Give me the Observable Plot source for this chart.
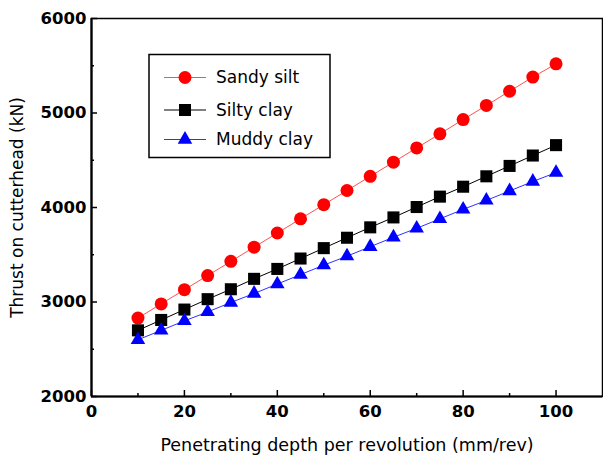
<!DOCTYPE html>
<html><head><meta charset="utf-8">
<script src="https://cdn.jsdelivr.net/npm/d3@7"></script>
<script src="https://cdn.jsdelivr.net/npm/@observablehq/plot@0.6"></script>
<style>
html,body{margin:0;padding:0;background:#fff;}
#wrap{position:relative;width:603px;height:460px;}
#legend{position:absolute;left:0;top:0;}
</style></head>
<body><div id="wrap"></div>
<script>
const depth = [10,15,20,25,30,35,40,45,50,55,60,65,70,75,80,85,90,95,100];
const sandySilt = [2830,2980,3130,3280,3430,3580,3730,3880,4030,4180,4330,4480,4630,4780,4930,5080,5230,5380,5520];
const siltyClay = [2700,2810,2920,3030,3135,3245,3350,3460,3570,3680,3790,3895,4005,4115,4220,4330,4440,4550,4660];
const muddyClay = [2600,2700,2800,2895,2995,3090,3190,3290,3390,3485,3585,3685,3780,3880,3980,4075,4175,4275,4370];
const seriesNames = ["Sandy silt","Silty clay","Muddy clay"];
const seriesColors = ["#ff0000","#000000","#0000ff"];
const lineColors = ["#ff5050","#000000","#3030ff"];
const seriesSymbols = ["circle","square","triangle"];
const symbolR = [6.5,6.8,5.4];
const xTicks = [0,20,40,60,80,100];
const xMinor = [10,30,50,70,90];
const yTicks = [2000,3000,4000,5000,6000];
const yMinor = [2500,3500,4500,5500];
const xTitle = "Penetrating depth per revolution (mm/rev)";
const yTitle = "Thrust on cutterhead (kN)";

const allValues = [sandySilt, siltyClay, muddyClay];
const rows = [];
allValues.forEach((vals,i)=>vals.forEach((v,j)=>rows.push({x:depth[j], y:v, s:seriesNames[i]})));

const font = "'DejaVu Sans', sans-serif";
const marks = [];
seriesNames.forEach((name,i)=>{
  const d = rows.filter(r=>r.s===name);
  marks.push(Plot.line(d,{x:"x",y:"y",stroke:lineColors[i],strokeWidth:1}));
});
seriesNames.forEach((name,i)=>{
  const d = rows.filter(r=>r.s===name);
  marks.push(Plot.dot(d,{x:"x",y:"y",symbol:()=>seriesSymbols[i],r:symbolR[i],fill:seriesColors[i],stroke:"none"}));
});

const chart = Plot.plot({
  width:603, height:460,
  marginLeft:91, marginRight:1, marginTop:18, marginBottom:64,
  style:{fontFamily:font, background:"#fff", overflow:"visible"},
  x:{domain:[0,110]},
  y:{domain:[2000,6000]},
  symbol:{type:"identity"},
  marks:[
    Plot.frame({stroke:"#000", strokeWidth:1.5}),
    Plot.ruleX([0],{stroke:"#000",strokeWidth:2.2}),
    Plot.ruleY([2000],{stroke:"#000",strokeWidth:2.2}),
    Plot.axisX({ticks:xTicks, tickSize:-6, tickFormat:()=>"" , label:null, strokeWidth:1.5}),
    Plot.axisX({ticks:xMinor, tickSize:-3, tickFormat:()=>"", label:null, strokeWidth:1.5}),
    Plot.axisY({ticks:yTicks, tickSize:-6, tickFormat:()=>"", label:null, strokeWidth:1.5}),
    Plot.axisY({ticks:yMinor, tickSize:-3, tickFormat:()=>"", label:null, strokeWidth:1.5}),
    Plot.axisX({ticks:xTicks, tickSize:0, tickPadding:9, label:null, fontSize:16.5, fontWeight:"bold", fill:"#000"}),
    Plot.axisY({ticks:yTicks, tickSize:0, tickPadding:5, label:null, fontSize:16.5, fontWeight:"bold", fill:"#000", tickFormat:d=>String(d)}),
    Plot.text([xTitle],{frameAnchor:"bottom", lineAnchor:"middle", textAnchor:"middle", dy:49, fontSize:17.5, fill:"#000"}),
    Plot.text([yTitle],{frameAnchor:"left", lineAnchor:"middle", textAnchor:"middle", dx:-74, rotate:-90, fontSize:17, fill:"#000"}),
    ...marks
  ]
});
const wrap = document.getElementById("wrap");
wrap.appendChild(chart);

// legend overlay
const ns = "http://www.w3.org/2000/svg";
const leg = document.createElementNS(ns,"svg");
leg.setAttribute("id","legend"); leg.setAttribute("width",603); leg.setAttribute("height",460);
const box = document.createElementNS(ns,"rect");
box.setAttribute("x",149); box.setAttribute("y",54.5); box.setAttribute("width",181); box.setAttribute("height",103);
box.setAttribute("fill","#fff"); box.setAttribute("stroke","#000"); box.setAttribute("stroke-width",1.5);
leg.appendChild(box);
const rowY = [77.5,110,139.5];
seriesNames.forEach((name,i)=>{
  const ln = document.createElementNS(ns,"line");
  ln.setAttribute("x1",164); ln.setAttribute("x2",206); ln.setAttribute("y1",rowY[i]); ln.setAttribute("y2",rowY[i]);
  ln.setAttribute("stroke",lineColors[i]); ln.setAttribute("stroke-width",1);
  leg.appendChild(ln);
  const sym = {circle:d3.symbolCircle, square:d3.symbolSquare, triangle:d3.symbolTriangle}[seriesSymbols[i]];
  const p = document.createElementNS(ns,"path");
  p.setAttribute("d", d3.symbol(sym, Math.PI*symbolR[i]*symbolR[i])());
  p.setAttribute("transform",`translate(185,${rowY[i]})`);
  p.setAttribute("fill",seriesColors[i]);
  leg.appendChild(p);
  const t = document.createElementNS(ns,"text");
  t.setAttribute("x",216); t.setAttribute("y",rowY[i]); t.setAttribute("dy","0.35em");
  t.setAttribute("font-family",font); t.setAttribute("font-size",17); t.textContent = name;
  leg.appendChild(t);
});
wrap.appendChild(leg);
</script></body></html>
